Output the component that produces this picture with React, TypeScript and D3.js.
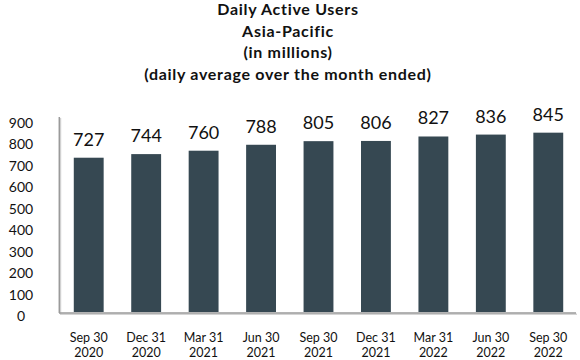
import React from "react";
import * as d3 from "d3";

const categories = [
  ["Sep 30", "2020"],
  ["Dec 31", "2020"],
  ["Mar 31", "2021"],
  ["Jun 30", "2021"],
  ["Sep 30", "2021"],
  ["Dec 31", "2021"],
  ["Mar 31", "2022"],
  ["Jun 30", "2022"],
  ["Sep 30", "2022"],
];
const values = [727, 744, 760, 788, 805, 806, 827, 836, 845];
const yTicks = [0, 100, 200, 300, 400, 500, 600, 700, 800, 900];
const titleLines = [
  "Daily Active Users",
  "Asia-Pacific",
  "(in millions)",
  "(daily average over the month ended)",
];

const W = 580;
const H = 360;
const FONT = "Lato, 'Open Sans', sans-serif";
const BAR = "#364852";

export default function App() {
  const keys = categories.map((c, i) => String(i));
  const x = d3.scaleBand<string>().domain(keys).range([60, 577]).paddingInner(0.48).paddingOuter(0.24);
  const y = d3.scaleLinear().domain([0, 900]).range([312, 121]);
  const yLab = d3.scaleLinear().domain([0, 900]).range([321, 128]);

  return (
    <svg width={W} height={H} style={{ position: "absolute", left: 0, top: 0, background: "#fff" }}>
      {titleLines.map((t, i) => (
        <text key={i} x={288} y={15 + i * 21.7} textAnchor="middle" fontFamily={FONT} fontWeight={700} fontSize={16} letterSpacing={0.7} fill="#111">
          {t}
        </text>
      ))}
      {yTicks.map((t) => (
        <text key={t} x={21} y={yLab(t)} textAnchor="middle" fontFamily={FONT} fontSize={14} fill="#111">
          {t}
        </text>
      ))}
      {values.map((v, i) => (
        <g key={i}>
          <rect x={x(String(i))} y={y(v)} width={x.bandwidth()} height={y(0) - y(v)} fill={BAR} />
          <text x={(x(String(i)) as number) + x.bandwidth() / 2} y={y(v) - 12} textAnchor="middle" fontFamily={FONT} fontSize={18} fill="#111">
            {v}
          </text>
        </g>
      ))}
      {/* axes with soft shadow */}
      <line x1={60.5} y1={118} x2={60.5} y2={314} stroke="#d4d4d4" strokeWidth={1.5} />
      <line x1={59.3} y1={117} x2={59.3} y2={313} stroke="#9a9a9a" strokeWidth={1.5} />
      <line x1={60} y1={314.3} x2={577} y2={314.3} stroke="#d4d4d4" strokeWidth={1.5} />
      <line x1={59} y1={313} x2={576} y2={313} stroke="#9a9a9a" strokeWidth={1.5} />
      {categories.map((c, i) => {
        const cx = (x(String(i)) as number) + x.bandwidth() / 2;
        return (
          <text key={i} textAnchor="middle" fontFamily={FONT} fontSize={12.5} fill="#111">
            <tspan x={cx} y={342}>{c[0]}</tspan>
            <tspan x={cx} y={357}>{c[1]}</tspan>
          </text>
        );
      })}
    </svg>
  );
}
